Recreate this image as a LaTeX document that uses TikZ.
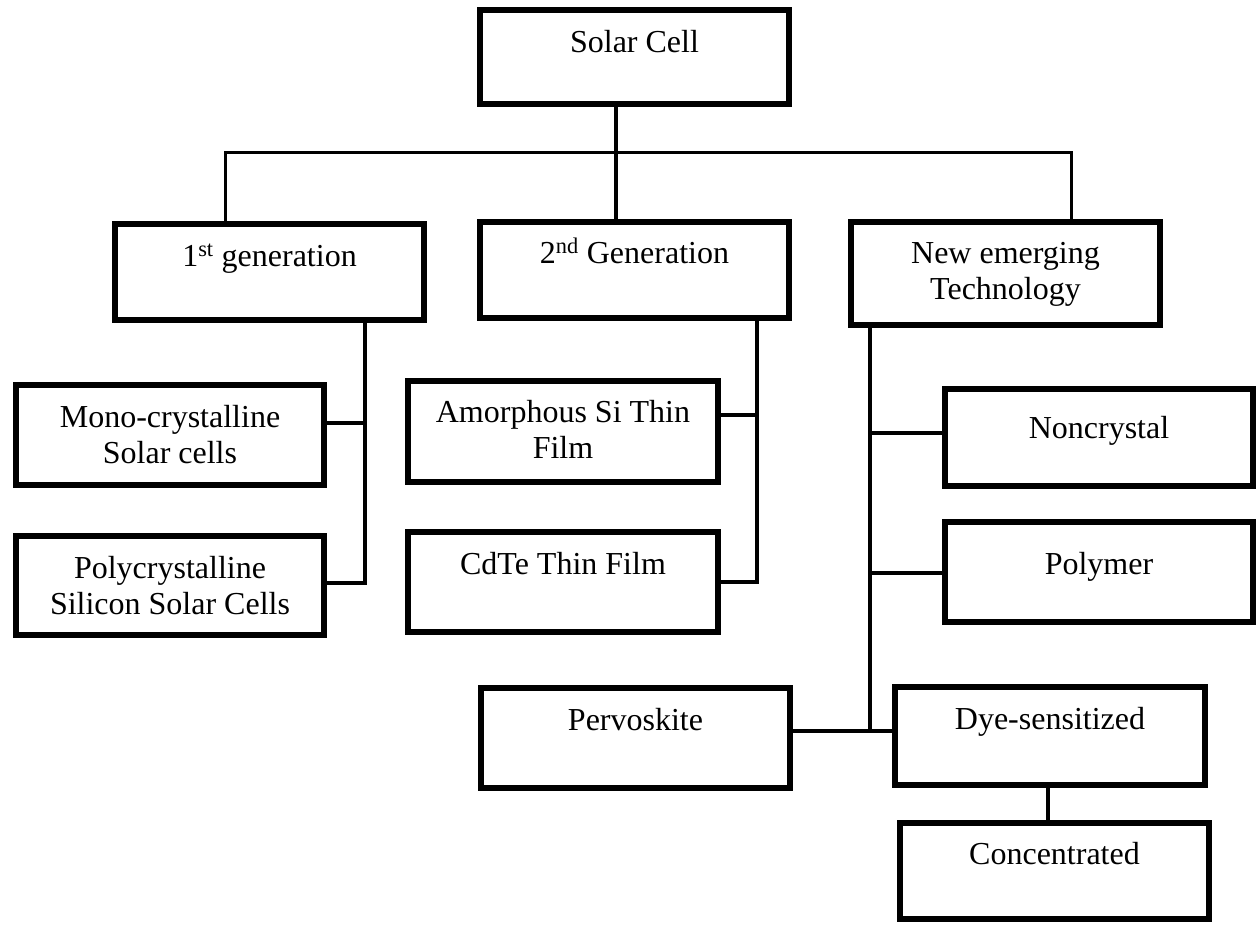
\documentclass[tikz,border=0pt]{standalone}
\usepackage{fontspec}
\setmainfont{Liberation Serif}
% two centred lines whose baseline is the first line
\newcommand\twoline[2]{\begin{tabular}[t]{@{}c@{}}#1\\#2\end{tabular}}
\begin{document}
\begin{tikzpicture}[x=1pt,y=-1pt,
  box/.style={draw=black, line width=6pt, rectangle, inner sep=0pt, outer sep=0pt, line join=miter},
  lbl/.style={anchor=base, inner sep=0pt, outer sep=0pt, font=\fontsize{32}{36}\selectfont},
  link/.style={draw=black, line width=3.5pt, line join=miter},
]
\useasboundingbox (0,0) rectangle (1256,924);
\fill[white] (0,0) rectangle (1256,924);

% ---- boxes ----
\node[box, minimum width=309pt, minimum height=94pt]  (solar) at (634.5,57)   {};
\node[box, minimum width=309pt, minimum height=96pt]  (gen1)  at (269.5,272)  {};
\node[box, minimum width=309pt, minimum height=96pt]  (gen2)  at (634.5,270)  {};
\node[box, minimum width=309pt, minimum height=103pt] (newem) at (1005.5,273.5) {};
\node[box, minimum width=308pt, minimum height=100pt] (mono)  at (170,435)    {};
\node[box, minimum width=308pt, minimum height=99pt]  (poly)  at (170,585.5)  {};
\node[box, minimum width=310pt, minimum height=101pt] (amor)  at (563,431.5)  {};
\node[box, minimum width=310pt, minimum height=100pt] (cdte)  at (563,582)    {};
\node[box, minimum width=308pt, minimum height=97pt]  (noncr) at (1099,437.5) {};
\node[box, minimum width=308pt, minimum height=100pt] (polym) at (1099,572)   {};
\node[box, minimum width=309pt, minimum height=100pt] (perv)  at (635.5,738)  {};
\node[box, minimum width=310pt, minimum height=98pt]  (dye)   at (1050,736)   {};
\node[box, minimum width=309pt, minimum height=96pt]  (conc)  at (1054.5,871) {};

% ---- labels ----
\node[lbl] (tsolar) at (634.5,52)  {Solar Cell};
\node[lbl] (tgen1)  at (269.5,266) {1\textsuperscript{st} generation};
\node[lbl] (tgen2)  at (634.5,263) {2\textsuperscript{nd} Generation};
\node[lbl] (tnewem) at (1005.5,263) {\twoline{New emerging}{Technology}};
\node[lbl] (tmono)  at (170,427)   {\twoline{Mono-crystalline}{Solar cells}};
\node[lbl] (tpoly)  at (170,578)   {\twoline{Polycrystalline}{Silicon Solar Cells}};
\node[lbl] (tamor)  at (563,422)   {\twoline{Amorphous Si Thin}{Film}};
\node[lbl] (tcdte)  at (563,574)   {CdTe Thin Film};
\node[lbl] (tnoncr) at (1099,438)  {Noncrystal};
\node[lbl] (tpolym) at (1099,574)  {Polymer};
\node[lbl] (tperv)  at (635.5,730) {Pervoskite};
\node[lbl] (tdye)   at (1050,729)  {Dye-sensitized};
\node[lbl] (tconc)  at (1054.5,864) {Concentrated};

% ---- junction points ----
\coordinate (j0) at (616,152);
\coordinate (jl) at (225,152);
\coordinate (jr) at (1071,152);
\coordinate (m1) at (365,423);
\coordinate (p1) at (365,583);
\coordinate (a1) at (757,415);
\coordinate (c1) at (757,582);
\coordinate (n1) at (870,433);
\coordinate (n2) at (870,573);
\coordinate (n3) at (870,731);
\coordinate (d1) at (1048,800);

% ---- connectors ----
\draw[link, line width=4pt] (solar.south -| j0) -- (gen2.north -| j0);
\draw[link, line width=3pt] (jl |- gen1.north) -- (jl) -- (jr) -- (jr |- newem.north);

\draw[link] (gen1.south -| p1) -- (p1) -- (poly.east |- p1);
\draw[link] (m1) -- (mono.east |- m1);

\draw[link] (gen2.south -| c1) -- (c1) -- (cdte.east |- c1);
\draw[link] (a1) -- (amor.east |- a1);

\draw[link] (newem.south -| n3) -- (n3);
\draw[link] (n1) -- (noncr.west |- n1);
\draw[link] (n2) -- (polym.west |- n2);
\draw[link] (perv.east |- n3) -- (dye.west |- n3);

\draw[link] (dye.south -| d1) -- (conc.north -| d1);
\end{tikzpicture}
\end{document}
